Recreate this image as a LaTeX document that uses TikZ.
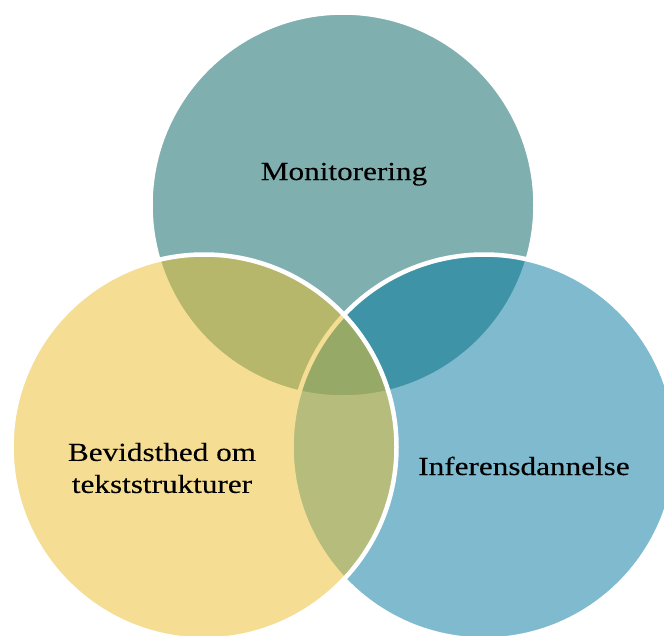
\documentclass[tikz,border=0pt]{standalone}
\usepackage{fontspec}
\setmainfont{Liberation Serif}[FakeStretch=1.2,FakeBold=0.25]
\definecolor{cTop}{RGB}{0,99,97}
\definecolor{cLeft}{RGB}{237,191,41}
\definecolor{cRight}{RGB}{1,119,159}
\begin{document}
\begin{tikzpicture}[x=1pt,y=-1pt,
  venn/.style={circle, minimum size=385pt, inner sep=0pt, draw=white, line width=4.5pt, fill opacity=0.5},
  lbl/.style={text=black, font=\fontsize{26}{32}\selectfont, inner sep=0pt, align=center}]
\begin{scope}
\clip (0,0) rectangle (664,635);
\fill[white] (0,0) rectangle (664,635);
\node[venn, fill=cTop] (top) at (343,205) {};
\node[venn, fill=cRight] (right) at (484,447) {};
\node[venn, fill=cLeft] (left) at (204,447) {};
\node[lbl, anchor=base] (tmon) at (344,180) {Monitorering};
\node[lbl, anchor=base] (tinf) at (524,475) {Inferensdannelse};
\node[lbl, anchor=center] (tbev) at (162,468) {Bevidsthed om\\tekststrukturer};
\end{scope}
\pgfresetboundingbox
\useasboundingbox (0,0) rectangle (664,635);
\end{tikzpicture}
\end{document}
